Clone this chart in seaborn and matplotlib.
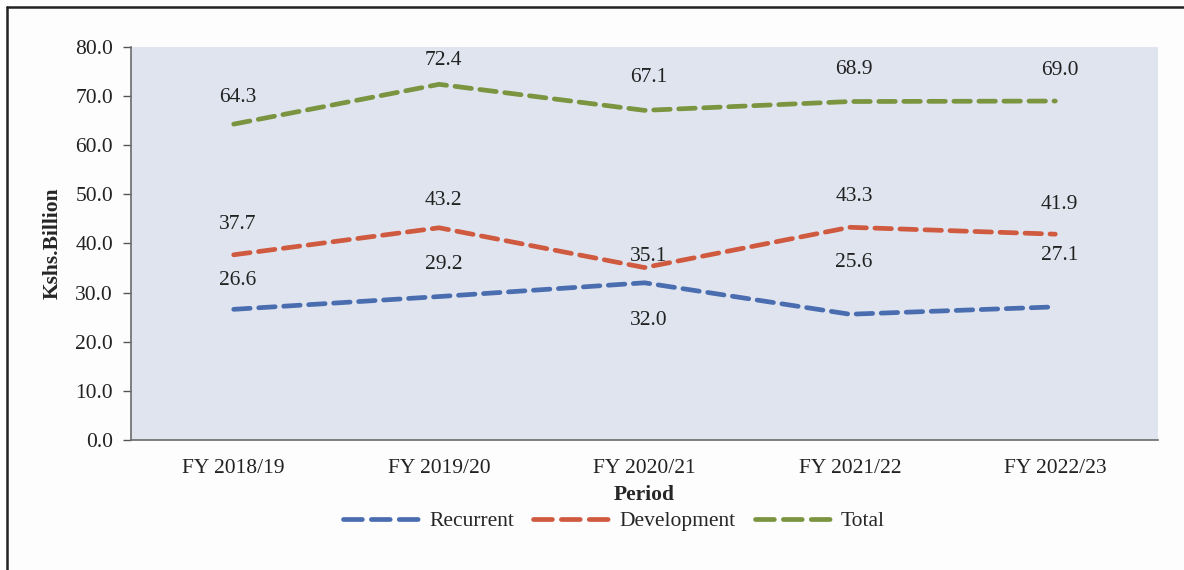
import matplotlib
matplotlib.use("Agg")
import matplotlib.pyplot as plt
import pandas as pd
import seaborn as sns
from matplotlib.lines import Line2D

# values
periods = ["FY 2018/19", "FY 2019/20", "FY 2020/21", "FY 2021/22", "FY 2022/23"]
recurrent = [26.6, 29.2, 32.0, 25.6, 27.1]
development = [37.7, 43.2, 35.1, 43.3, 41.9]
total = [64.3, 72.4, 67.1, 68.9, 69.0]
series_names = ["Recurrent", "Development", "Total"]
y_ticks = [0, 10, 20, 30, 40, 50, 60, 70, 80]

colors = {"Recurrent": "#4a6db0", "Development": "#cf5a3f", "Total": "#7a9440"}
# label centre offsets in points above each point
label_dy = {
    "Recurrent": [21, 23, -27, 37, 37],
    "Development": [22, 20, 8, 22, 21],
    "Total": [19.5, 17, 24, 23, 22],
}

df = pd.DataFrame({
    "Period": periods * 3,
    "Value": recurrent + development + total,
    "Series": [s for s in series_names for _ in periods],
})

sns.set_style("white")
plt.rcParams["font.family"] = ["Liberation Serif", "DejaVu Serif"]
FS = 15.5

fig = plt.figure(figsize=(11.84, 5.70), dpi=100)
ax = fig.add_axes([131 / 1184, 1 - 440 / 570, (1158 - 131) / 1184, (440 - 47) / 570])
ax.set_facecolor("#dfe4ef")

sns.lineplot(data=df, x="Period", y="Value", hue="Series", style="Series",
             palette=colors, dashes={s: (3.5, 1.8) for s in series_names},
             linewidth=3.4, ax=ax, legend=False, sort=False)
for line in ax.get_lines():
    line.set_dash_capstyle("round")

for name, vals in zip(series_names, [recurrent, development, total]):
    for i, v in enumerate(vals):
        ax.annotate(f"{v:.1f}", (i, v), xytext=(3, label_dy[name][i]),
                    textcoords="offset points", ha="center", va="center",
                    fontsize=FS, color="#222222")

ax.set_xlim(-0.5, len(periods) - 0.5)
ax.set_ylim(0, 80)
ax.set_yticks(y_ticks)
ax.set_yticklabels([f"{t:.1f}" for t in y_ticks])
ax.set_xticks(range(len(periods)))
ax.set_xticklabels(periods)
ax.set_xticks([i - 0.5 for i in range(len(periods) + 1)], minor=True)
ax.tick_params(axis="x", which="major", length=0, pad=14, labelsize=FS, colors="#222222")
ax.tick_params(axis="x", which="minor", length=6, width=1, color="#555555", direction="out")
ax.tick_params(axis="y", length=6, width=1, color="#555555", direction="out", pad=7,
               labelsize=FS, labelcolor="#222222", left=True)
for side in ["top", "right"]:
    ax.spines[side].set_visible(False)
for side in ["left", "bottom"]:
    ax.spines[side].set_color("#6b6b6b")
    ax.spines[side].set_linewidth(1.2)

ax.set_xlabel("Period", fontsize=FS, fontweight="bold", labelpad=5)
ax.set_ylabel("Kshs.Billion", fontsize=FS, fontweight="bold", labelpad=9)

handles = [Line2D([0], [0], color=colors[s], lw=3.4, dashes=(4.0, 1.9),
                  dash_capstyle="round") for s in series_names]
fig.legend(handles, series_names, loc="center", bbox_to_anchor=(614 / 1184, 1 - 521 / 570),
           ncol=3, frameon=False, fontsize=FS, handlelength=3.6, columnspacing=0.9,
           handletextpad=0.4)

# outer frame (only top and left edges fall inside the image)
fig.add_artist(Line2D([7 / 1184, 1.0], [1 - 7 / 570] * 2, color="#222222", lw=1.8))
fig.add_artist(Line2D([7 / 1184] * 2, [0, 1 - 7 / 570], color="#222222", lw=1.8))

fig.savefig("out.png", dpi=100, facecolor="#fdfdfd")
